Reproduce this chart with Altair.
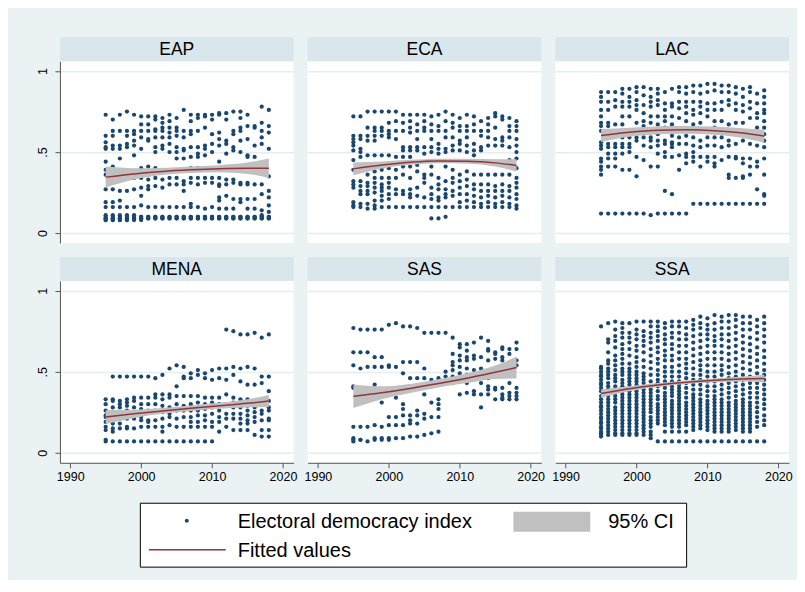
import altair as alt
import pandas as pd

YEARS = list(range(1995, 2019))
REGIONS = ["EAP", "ECA", "LAC", "MENA", "SAS", "SSA"]

# Electoral democracy index, one string per year (1995..2018), values in hundredths
EAP = [
    "73 60 56 53 52 44 39 36 27 19 16 11 10 09 09 08 08",
    "70 63 60 54 52 41 27 19 16 11 10 09 09 08 08",
    "73 63 54 52 46 36 26 20 16 11 10 09 09 08 08",
    "75 63 60 55 53 36 26 16 11 10 09 09 08 08",
    "73 63 61 57 54 48 34 27 16 11 10 09 09 08",
    "72 67 63 59 52 40 34 28 23 17 10 10 09 09 08",
    "72 67 63 58 57 41 33 29 27 16 10 10 09 09",
    "72 70 64 63 59 53 50 40 34 29 16 10 10 09 09",
    "71 68 65 63 59 54 52 39 33 28 16 10 10 09 09",
    "73 69 65 62 59 55 50 34 30 16 10 10 09 09",
    "71 65 63 60 53 50 46 34 30 16 10 10 09 09",
    "76 63 59 52 51 46 32 30 26 16 10 10 09 09",
    "73 69 63 61 53 47 40 34 31 18 16 10 10 09 09",
    "73 71 63 53 49 47 40 34 30 16 10 10 09 09",
    "73 72 65 54 52 48 34 31 15 10 10 09 09",
    "73 70 61 55 50 34 31 16 10 10 09 09",
    "74 73 62 58 54 44 34 30 29 22 20 15 10 10 09 09",
    "74 70 57 55 49 33 30 23 15 10 10 09 09",
    "75 63 61 53 51 33 31 21 15 10 10 09 09",
    "75 71 65 63 57 50 31 30 21 19 10 10 09 09",
    "73 66 58 48 47 31 30 21 15 10 10 09 09",
    "66 65 54 47 30 21 15 10 10 09 09",
    "78 68 63 59 55 30 24 14 11 10 10 09 09",
    "76 66 62 52 35 26 22 17 13 10 10 09 09",
]
ECA = [
    "72 60 58 56 54 51 45 39 32 30 28 19 17 16",
    "72 60 58 52 50 47 39 32 29 26 24 18 16",
    "75 65 60 57 48 40 36 31 29 26 24 18 15",
    "75 65 63 60 57 48 38 34 31 28 25 20 17 15",
    "75 65 63 60 48 39 34 30 28 26 23 20 16",
    "75 68 63 61 59 48 40 34 31 28 24 21 16",
    "75 69 63 58 47 39 34 27 24 16",
    "73 68 63 53 51 47 41 36 26 24 16",
    "73 69 65 62 53 51 47 41 34 27 24 22 16",
    "73 67 63 58 53 51 42 38 28 23 16",
    "73 69 65 63 53 49 36 34 31 22 16",
    "72 67 63 58 53 50 41 36 28 24 21 16 09",
    "73 66 63 55 52 49 34 30 27 22 20 16 09",
    "75 69 63 59 52 50 41 32 27 24 22 16 10",
    "73 68 65 59 54 51 39 34 31 26 23 16",
    "71 66 63 57 55 51 36 32 28 24 19 16",
    "73 66 63 59 54 50 38 33 29 24 20 16",
    "72 67 63 55 51 48 36 30 27 23 19 16",
    "69 63 60 53 51 36 30 26 22 18 16",
    "71 67 63 59 54 36 30 26 23 19 16",
    "74 72 65 58 54 36 29 26 22 18 16",
    "72 70 59 57 54 36 30 26 23 19 16",
    "71 66 63 59 53 45 36 29 26 22 18 16",
    "69 66 63 58 54 50 46 40 34 31 28 24 21 17 15",
]
LAC = [
    "87 84 81 76 72 68 66 63 56 54 52 46 44 41 39 36 12",
    "87 81 76 68 66 61 55 53 49 46 41 12",
    "87 82 78 67 61 55 53 49 46 41 12",
    "89 86 81 78 72 67 59 55 53 49 39 12",
    "89 84 81 78 72 63 59 55 53 50 39 12",
    "90 87 82 79 76 68 63 59 57 47 35 12",
    "90 85 79 74 69 66 63 59 54 45 12",
    "89 84 81 78 72 68 59 57 53 41 11",
    "89 86 82 79 72 67 61 57 54 49 41 12",
    "87 80 76 72 69 65 57 55 50 47 26 12",
    "89 80 78 72 67 60 56 55 53 47 24 12",
    "90 87 81 77 71 63 59 55 48 39 12",
    "90 86 81 78 74 69 63 60 55 49 47 43 12",
    "91 87 81 76 73 67 63 59 54 50 47 44 18",
    "91 86 81 78 74 68 63 57 53 47 41 18",
    "92 87 80 76 72 63 59 54 47 44 18",
    "92 88 80 76 69 65 59 54 47 43 41 18",
    "91 87 81 76 69 63 59 53 45 18",
    "91 87 82 79 67 63 57 54 47 36 34 18",
    "90 86 80 76 68 61 55 47 46 34 18",
    "89 84 79 75 68 61 57 46 43 35 34 18",
    "90 87 81 77 71 61 55 46 41 36 18",
    "86 80 74 71 65 59 54 44 41 27 18",
    "88 84 80 76 74 69 65 61 57 53 46 36 24 23 18",
]
MENA = [
    "33 30 26 23 22 19 16 14 08 07",
    "47 33 32 28 25 22 18 15 13 07",
    "47 32 30 28 24 21 18 15 07",
    "47 33 31 29 26 21 16 15 07",
    "47 34 32 28 24 21 15 07",
    "47 34 30 27 22 20 16 07",
    "47 34 30 26 20 19 16 07",
    "46 36 34 30 26 20 16 07",
    "48 36 33 29 25 21 16 13 07",
    "52 36 34 28 24 22 17 07",
    "54 41 35 30 26 21 16 07",
    "53 47 46 35 29 26 22 16 07",
    "49 46 35 30 26 22 19 16 07",
    "51 48 35 31 26 23 19 16 07",
    "49 46 34 30 27 23 20 16 07",
    "51 45 34 31 28 24 19 16 07",
    "52 46 34 30 26 22 19 13",
    "76 52 45 36 30 24 21 16",
    "75 53 48 34 31 28 24 21 14",
    "73 52 44 33 28 24 21 18 14",
    "73 53 42 33 29 26 23 20 18 14",
    "74 52 42 32 28 25 22 19 11",
    "71 47 43 33 30 26 24 20 14 10",
    "73 47 38 32 28 26 21 20 14 10",
]
SAS = [
    "77 62 54 41 40 16 09 08 07",
    "76 62 52 16 08 08",
    "76 62 53 16 07",
    "76 59 53 42 17 09 08",
    "76 59 53 31 16 09 08",
    "79 54 53 22 17 09 08",
    "80 53 34 22 17 09",
    "78 56 49 30 27 23 17 09",
    "78 56 46 41 23 20 18 10",
    "77 56 46 41 26 23 18 10",
    "74 52 46 36 24 21 11",
    "74 45 41 31 22 12",
    "74 46 33 30 27 22 13",
    "74 50 47 43",
    "71 61 56 54 51 47 43",
    "67 65 60 57 53 49 44 36",
    "67 63 59 57 52 48 43 37",
    "68 60 58 51 46 38 36",
    "71 59 52 47 43 36 28",
    "69 64 63 57 46 41 39 36",
    "62 61 58 51 40 39 33",
    "65 64 59 57 40 36 34 33",
    "64 61 54 43 37 35 33",
    "68 64 57 54 40 37 35 33",
]
SSA = [
    "78 53 52 50 48 47 45 43 42 40 38 35 33 31 29 28 26 24 22 21 19 18 16 15 13 12 11 10",
    "80 70 68 62 57 55 52 50 48 46 43 41 39 37 35 33 31 29 27 25 23 21 19 17 15 13 11",
    "81 76 72 69 65 60 57 54 51 48 46 44 41 39 37 35 33 31 28 26 24 22 20 18 16 14 12 11",
    "80 77 74 71 67 64 61 58 55 52 50 48 45 43 41 38 36 34 32 30 28 26 24 22 20 18 16 14 12 11",
    "80 74 71 68 64 60 55 52 50 48 46 44 42 40 38 36 34 32 30 28 26 24 22 20 18 16 14 12 11",
    "81 76 73 70 66 63 59 56 53 50 48 46 44 42 40 38 36 34 32 30 28 26 24 22 20 18 16 14 12 11",
    "81 75 72 69 66 62 57 53 49 47 45 43 41 39 37 35 33 31 29 27 25 23 21 19 17 15 13 11",
    "81 78 74 71 68 64 60 56 52 48 44 41 39 37 35 33 31 29 27 25 22 20 18 16 13 11 09",
    "81 78 75 72 69 65 62 58 55 51 48 45 43 41 38 35 33 30 28 26 24 22 20 18 07",
    "80 77 73 70 67 63 60 57 53 50 47 44 42 40 37 35 33 31 29 27 25 23 21 19 17 13 07",
    "81 78 74 71 67 64 60 57 53 50 47 44 41 39 37 35 32 30 28 26 24 22 20 18 16 13 07",
    "81 78 74 70 66 62 58 54 50 47 44 42 40 38 36 34 32 30 28 26 24 22 20 18 16 13 07",
    "81 77 73 70 66 62 58 55 52 49 46 43 40 37 34 31 29 27 25 23 21 19 17 13 07",
    "82 79 76 72 68 64 60 56 52 48 45 42 39 36 34 32 30 28 26 24 22 20 18 16 14 07",
    "84 80 77 73 69 65 61 57 54 51 48 45 42 39 36 33 31 29 27 25 23 21 19 17 15 07",
    "83 79 76 73 70 66 62 58 54 50 47 44 41 38 35 32 30 28 26 24 22 20 18 16 14 07",
    "85 80 76 72 69 66 62 58 54 50 47 44 41 38 35 33 31 29 27 25 23 21 19 17 15 13 07",
    "84 81 77 73 70 66 62 58 54 51 48 45 42 39 36 33 31 29 27 25 23 21 19 17 15 13 07",
    "85 81 77 73 69 65 61 57 53 49 46 43 40 37 34 31 29 27 25 23 21 19 17 15 13 07",
    "85 82 78 74 70 66 62 58 54 50 47 44 41 38 35 32 30 28 26 24 22 20 18 16 14 07",
    "84 80 76 72 68 64 60 56 52 48 45 42 39 36 33 31 29 27 25 23 21 19 17 15 13 07",
    "84 80 76 71 67 63 59 55 51 47 43 40 37 34 31 29 27 25 23 21 19 17 15 13 07",
    "82 78 74 70 65 61 57 53 49 46 43 40 37 34 31 28 25 22 19 16 07",
    "84 80 76 72 68 63 59 55 51 48 45 42 39 36 33 30 27 23 20 17 07",
]

# Quadratic fit (read at these years) and half-width of 95% CI
FIT_YEARS = [1995, 1999, 2003, 2007, 2011, 2015, 2018]
FIT = {
    "EAP": [0.345, 0.365, 0.380, 0.390, 0.397, 0.400, 0.400],
    "ECA": [0.396, 0.420, 0.437, 0.445, 0.443, 0.433, 0.417],
    "LAC": [0.602, 0.622, 0.634, 0.637, 0.632, 0.617, 0.598],
    "MENA": [0.220, 0.240, 0.258, 0.275, 0.290, 0.305, 0.320],
    "SAS": [0.348, 0.370, 0.397, 0.428, 0.460, 0.497, 0.526],
    "SSA": [0.365, 0.395, 0.418, 0.435, 0.447, 0.455, 0.458],
}
HALF = {
    "EAP": [0.065, 0.035, 0.022, 0.020, 0.022, 0.035, 0.060],
    "ECA": [0.040, 0.022, 0.015, 0.014, 0.015, 0.022, 0.038],
    "LAC": [0.040, 0.028, 0.025, 0.024, 0.025, 0.030, 0.040],
    "MENA": [0.043, 0.025, 0.018, 0.017, 0.018, 0.025, 0.037],
    "SAS": [0.072, 0.040, 0.028, 0.025, 0.030, 0.042, 0.068],
    "SSA": [0.026, 0.015, 0.012, 0.011, 0.012, 0.015, 0.024],
}
SERIES = {"EAP": EAP, "ECA": ECA, "LAC": LAC, "MENA": MENA, "SAS": SAS, "SSA": SSA}

LEGEND_LABELS = ["Electoral democracy index", "95% CI", "Fitted values"]

NAVY = "#1A476F"
MAROON = "#90353B"
BAND = "#C0C0C0"
STRIP = "#D9E6EB"
BG = "#EAF2F3"
GRIDC = "#E4EDF0"
AXC = "#555555"
FONT = "Liberation Sans"

W, H = 234, 182
XDOM = [1988.55, 2021.5]
YDOM = [-0.062, 1.060]


def points_df(reg):
    rows = []
    for yr, s in zip(YEARS, SERIES[reg]):
        for tok in s.split():
            rows.append({"year": yr, "v": int(tok) / 100})
    return pd.DataFrame(rows)


def fit_df(reg):
    return pd.DataFrame({
        "year": FIT_YEARS,
        "fit": FIT[reg],
        "lo": [f - h for f, h in zip(FIT[reg], HALF[reg])],
        "hi": [f + h for f, h in zip(FIT[reg], HALF[reg])],
    })


def legend_layers():
    # pixel positions relative to the SAS panel's plot origin
    OX, OY = 308, 281
    one = pd.DataFrame({"a": [0]})
    box = alt.Chart(one).mark_rect(fill="white", stroke="black", strokeWidth=1).encode(
        x=alt.value(140.5 - OX), x2=alt.value(687.5 - OX),
        y=alt.value(503.5 - OY), y2=alt.value(567.5 - OY))
    dot = alt.Chart(one).mark_circle(size=16, color=NAVY, opacity=1).encode(
        x=alt.value(187 - OX), y=alt.value(521 - OY))
    grey = alt.Chart(one).mark_rect(color=BAND).encode(
        x=alt.value(514 - OX), x2=alt.value(591 - OX),
        y=alt.value(512 - OY), y2=alt.value(532 - OY))
    red = alt.Chart(one).mark_rule(color=MAROON, strokeWidth=1.5).encode(
        x=alt.value(149 - OX), x2=alt.value(226 - OX), y=alt.value(550 - OY))
    txt = pd.DataFrame({
        "t": LEGEND_LABELS,
        "px": [238 - OX, 609 - OX, 238 - OX],
        "py": [522 - OY, 522 - OY, 551 - OY],
    })
    texts = alt.Chart(txt).mark_text(font=FONT, fontSize=20, align="left",
                                     baseline="middle", color="black").encode(
        x=alt.X("px:Q", scale=None), y=alt.Y("py:Q", scale=None), text="t:N")
    return [box, dot, grey, red, texts]


def panel(reg, left, bottom, with_legend=False):
    xs = alt.Scale(domain=XDOM, nice=False, zero=False)
    ys = alt.Scale(domain=YDOM, nice=False, zero=False)
    if bottom:
        xaxis = alt.Axis(values=[1990, 2000, 2010, 2020], format="d", grid=False,
                         labelFontSize=12.5, labelColor="black", labelFont=FONT,
                         tickSize=5, tickColor=AXC, domainColor=AXC, labelPadding=3,
                         labelFlush=False, labelOverlap=False, title=None)
    else:
        xaxis = None
    if left:
        yaxis = alt.Axis(values=[0, 0.5, 1], grid=True, gridColor=GRIDC, gridWidth=1.5,
                         labelExpr="datum.value == 0 ? '0' : (datum.value == 1 ? '1' : '.5')",
                         labelAngle=270, labelAlign="center", labelBaseline="bottom",
                         labelFontSize=12.5, labelColor="black", labelFont=FONT,
                         tickSize=5, tickColor=AXC, domainColor=AXC, labelPadding=5,
                         title=None)
    else:
        yaxis = alt.Axis(values=[0, 0.5, 1], grid=True, gridColor=GRIDC, gridWidth=1.5,
                         labels=False, ticks=False, domain=False, title=None)

    pts = alt.Chart(points_df(reg)).mark_circle(size=18, color=NAVY, opacity=1).encode(
        x=alt.X("year:Q", scale=xs, axis=xaxis),
        y=alt.Y("v:Q", scale=ys, axis=yaxis),
    )
    fd = fit_df(reg)
    band = alt.Chart(fd).mark_area(color=BAND, opacity=1, interpolate="monotone").encode(
        x=alt.X("year:Q", scale=xs), y=alt.Y("lo:Q", scale=ys), y2="hi:Q")
    line = alt.Chart(fd).mark_line(color=MAROON, strokeWidth=1.5, interpolate="monotone").encode(
        x=alt.X("year:Q", scale=xs), y=alt.Y("fit:Q", scale=ys))
    lab = pd.DataFrame({"r": [reg]})
    strip = alt.Chart(lab).mark_rect(color=STRIP).encode(
        x=alt.value(0), x2=alt.value(W), y=alt.value(-24), y2=alt.value(0))
    title = alt.Chart(lab).mark_text(font=FONT, fontSize=17.5, color="black",
                                     align="center", baseline="middle").encode(
        x=alt.value(W / 2), y=alt.value(-11.5), text="r:N")
    layers = [pts, band, line, strip, title]
    if with_legend:
        layers += legend_layers()
    return alt.layer(*layers).properties(
        width=W, height=H, view=alt.ViewBackground(fill="white", strokeWidth=0))


panels = [
    panel("EAP", True, False), panel("ECA", False, False), panel("LAC", False, False),
    panel("MENA", True, True), panel("SAS", False, True, with_legend=True),
    panel("SSA", False, True),
]

chart = alt.concat(*panels, columns=3, spacing=alt.RowColnumber(row=38, column=14),
                   bounds="flush").properties(
    background=BG, padding={"left": 28, "top": 29, "right": 4, "bottom": 12}
).configure(font=FONT)

chart.save("out.html", embed_options={"renderer": "svg", "actions": False})
